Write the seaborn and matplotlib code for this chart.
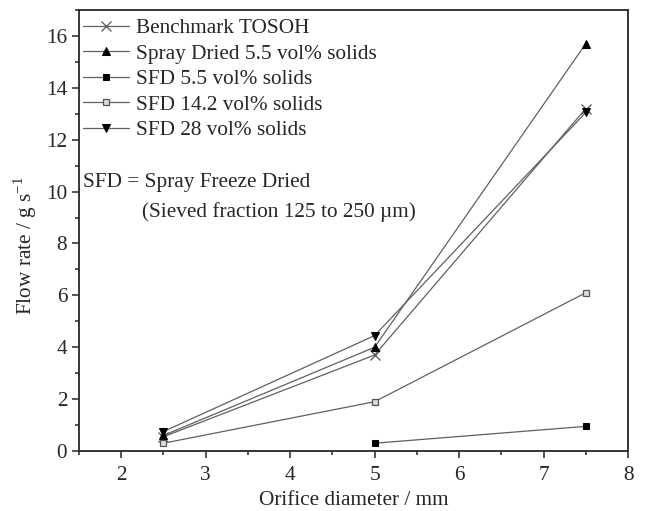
import matplotlib
matplotlib.use("Agg")
import matplotlib.pyplot as plt
from matplotlib.ticker import MultipleLocator
import seaborn as sns
import pandas as pd

sns.set_style("ticks")
plt.rcParams['font.family'] = ['Liberation Serif', 'DejaVu Serif']
plt.rcParams['mathtext.fontset'] = 'custom'
plt.rcParams['mathtext.rm'] = 'Liberation Serif'

x_bench = [2.5, 5.0, 7.5]
y_bench = [0.55, 3.7, 13.2]
x_spray = [2.5, 5.0, 7.5]
y_spray = [0.6, 4.0, 15.7]
x_sfd55 = [5.0, 7.5]
y_sfd55 = [0.3, 0.95]
x_sfd142 = [2.5, 5.0, 7.5]
y_sfd142 = [0.3, 1.9, 6.1]
x_sfd28 = [2.5, 5.0, 7.5]
y_sfd28 = [0.75, 4.45, 13.05]

labels = ["Benchmark TOSOH", "Spray Dried 5.5 vol% solids", "SFD 5.5 vol% solids",
          "SFD 14.2 vol% solids", "SFD 28 vol% solids"]

FS = 15.3
fig = plt.figure(figsize=(6.45, 5.11), dpi=100)
ax = fig.add_axes([79/645, 1-451/511, (628-79)/645, (451-10)/511])

series = [
    (x_bench, y_bench, dict(marker='x', markersize=6.5, markeredgecolor='#555555', markerfacecolor='none', markeredgewidth=0.9)),
    (x_spray, y_spray, dict(marker='^', markersize=6, markeredgecolor='black', markerfacecolor='black')),
    (x_sfd55, y_sfd55, dict(marker='s', markersize=5, markeredgecolor='black', markerfacecolor='black')),
    (x_sfd142, y_sfd142, dict(marker='s', markersize=5, markeredgecolor='#555555', markerfacecolor='#dddddd', markeredgewidth=0.9)),
    (x_sfd28, y_sfd28, dict(marker='v', markersize=6, markeredgecolor='black', markerfacecolor='black')),
]
for (xs, ys, kw), lab in zip(series, labels):
    df = pd.DataFrame({"x": xs, "y": ys})
    sns.lineplot(data=df, x="x", y="y", ax=ax, color='#606060', linewidth=0.9,
                 label=lab, **kw)

ax.set_xlim(1.5, 8.0)
ax.set_ylim(0, 17)
ax.xaxis.set_major_locator(MultipleLocator(1))
ax.xaxis.set_minor_locator(MultipleLocator(0.5))
ax.yaxis.set_major_locator(MultipleLocator(2))
ax.yaxis.set_minor_locator(MultipleLocator(1))
ax.tick_params(which='both', direction='out', top=False, right=False, labelsize=FS)
ax.tick_params(which='major', length=5, width=1.1)
ax.tick_params(axis='x', which='major', pad=6)
ax.tick_params(which='minor', length=3, width=1.1)
for s in ax.spines.values():
    s.set_linewidth(1.3)
    s.set_visible(True)

ax.set_xlabel("Orifice diameter / mm", fontsize=FS, labelpad=4)
ax.set_ylabel("Flow rate / g s$^{\\mathregular{-1}}$", fontsize=FS)
ax.yaxis.set_label_coords(-0.072, 0.465)

leg = ax.legend(loc='upper left', frameon=False, fontsize=FS, handlelength=2.2,
                handletextpad=0.3, borderaxespad=0.0, labelspacing=0.26,
                borderpad=0.4, bbox_to_anchor=(-0.009, 1.0))

ax.text(1.55, 10.35, "SFD = Spray Freeze Dried", fontsize=FS, va='center')
ax.text(2.25, 9.2, "(Sieved fraction 125 to 250 µm)", fontsize=FS, va='center')

fig.savefig("out.png", dpi=100)
